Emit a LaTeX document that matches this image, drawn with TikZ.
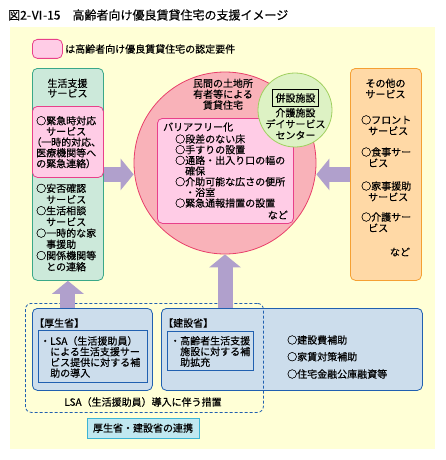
\documentclass[tikz,border=0pt]{standalone}
\usepackage{fontspec}
\setmainfont{Noto Sans CJK JP}[FakeBold=0.4]
\newfontfamily\pfont[RawFeature=+palt,FakeBold=0.4]{Noto Sans CJK JP}
\usetikzlibrary{arrows.meta}
\definecolor{bgy}{HTML}{FFFFD6}
\definecolor{gfill}{HTML}{CCE9DA}
\definecolor{gline}{HTML}{3AA888}
\definecolor{pfill}{HTML}{FFCCE6}
\definecolor{pline}{HTML}{E8408A}
\definecolor{cfill}{HTML}{F9B2B9}
\definecolor{cline}{HTML}{E8406A}
\definecolor{sgfill}{HTML}{DDF2C4}
\definecolor{sgline}{HTML}{A0D060}
\definecolor{ofill}{HTML}{FFD9A6}
\definecolor{oline}{HTML}{F5A033}
\definecolor{arr}{HTML}{B0A0CC}
\definecolor{bfill}{HTML}{CCDDEC}
\definecolor{bline}{HTML}{2060B0}
\definecolor{cyfill}{HTML}{C0E8F0}
\definecolor{cyline}{HTML}{3CB4D4}
\tikzset{
  box/.style={inner sep=0pt, rounded corners=5pt, line width=0.8pt},
  txt/.style={inner sep=0pt, font=\fontsize{10}{10.7}\selectfont, align=left},
  ctxt/.style={inner sep=0pt, font=\fontsize{10}{10.9}\selectfont, align=center},
  barrow/.style={draw=arr, line width=15pt, -{Triangle[width=31pt,length=13pt]}},
}
\begin{document}
\begin{tikzpicture}[x=1pt,y=-1pt]
\useasboundingbox (0,0) rectangle (445,460);
\fill[bgy] (10,27) rectangle (435,449);
\node[inner sep=0pt, anchor=west, font=\fontsize{12}{12}\selectfont] (title) at (8,15) {図2-Ⅵ-15　高齢者向け優良賃貸住宅の支援イメージ};
% legend
\node[box, draw=pline, fill=pfill, minimum width=30pt, minimum height=19pt, anchor=north west] (legbox) at (32,39) {};
\node[txt, anchor=west] (legtxt) at (65,49) {は高齢者向け優良賃貸住宅の認定要件};
% left green box
\node[box, draw=gline, fill=gfill, minimum width=71pt, minimum height=212pt, anchor=north west] (gbox) at (32,68) {};
\node[ctxt, anchor=north, font=\fontsize{10}{10}\selectfont] (gtitle) at (67.5,78.5) {生活支援\\サービス};
\node[box, draw=pline, fill=pfill, minimum width=71pt, minimum height=71pt, anchor=north west] (gpink) at (32,106) {};
\node[txt, anchor=north west] (gpinktxt) at (36,115.9) {○緊急時対応\\　サービス\\{\pfont （}一時的対応{\pfont 、}\\医療機関等へ\\の緊急連絡{\pfont ）}};
\node[txt, anchor=north west, font=\fontsize{10}{11.2}\selectfont] (glist) at (36,183.5) {○安否確認\\　サービス\\○生活相談\\　サービス\\○一時的な家\\　事援助\\○関係機関等\\　との連絡};
% circle
\node[circle, draw=cline, fill=cfill, line width=0.8pt, minimum size=182pt, inner sep=0pt] (circ) at (225,163) {};
\node[ctxt, anchor=north] (ctitle) at (223,78.5) {民間の土地所\\有者等による\\賃貸住宅};
\node[box, draw=pline, fill=pfill, minimum width=136pt, minimum height=105pt, anchor=north west] (cpink) at (157,118) {};
\node[txt, anchor=west] (bf) at (163,127) {バリアフリー化};
\node[txt, anchor=north west, font=\fontsize{10}{10.67}\selectfont] (bflist) at (175,134.2) {○段差のない床\\○手すりの設置\\○通路・出入り口の幅の\\　確保\\○介助可能な広さの便所\\　・浴室\\○緊急通報措置の設置};
\node[txt, anchor=east] (bfnado) at (288,215) {など};
\node[circle, draw=sgline, fill=sgfill, line width=0.8pt, minimum size=74pt, inner sep=0pt] (sg) at (295,110) {};
\node[draw=black, line width=0.7pt, inner sep=0pt, minimum width=45.6pt, minimum height=17.4pt, font=\fontsize{10}{10}\selectfont] (heisetsu) at (295.5,98) {併設施設};
\node[ctxt, anchor=north, font=\fontsize{10}{11.2}\selectfont] (sgtxt) at (295.5,108) {介護施設\\デイサービス\\センター};
% right orange box
\node[box, draw=oline, fill=ofill, minimum width=71pt, minimum height=212pt, anchor=north west] (obox) at (350,68) {};
\node[ctxt, anchor=north] (otitle) at (385.5,78.5) {その他の\\サービス};
\node[txt, anchor=north west, font=\fontsize{10}{11}\selectfont] (o1) at (361,115.2) {○フロント\\\hspace*{7pt}サービス};
\node[txt, anchor=north west, font=\fontsize{10}{11}\selectfont] (o2) at (361,147.2) {○食事サー\\\hspace*{7pt}ビス};
\node[txt, anchor=north west, font=\fontsize{10}{11}\selectfont] (o3) at (361,181.2) {○家事援助\\\hspace*{7pt}サービス};
\node[txt, anchor=north west, font=\fontsize{10}{11}\selectfont] (o4) at (361,212.2) {○介護サー\\\hspace*{7pt}ビス};
\node[txt] (onado) at (400,252) {など};
% bottom section
\node[box, draw=bline, fill=bfill, minimum width=120pt, minimum height=82pt, anchor=north west] (kbox) at (32,308) {};
\node[txt, anchor=west] (klabel) at (34,323) {【厚生省】};
\node[draw=bline, fill=bfill, line width=0.8pt, inner sep=0pt, minimum width=109pt, minimum height=52pt, anchor=north west] (kin) at (38,330) {};
\node[txt, anchor=north west] (kintxt) at (40,336) {・LSA（生活援助員）\\　による生活支援サー\\　ビス提供に対する補\\　助の導入};
\node[box, draw=bline, fill=bfill, minimum width=261pt, minimum height=82pt, anchor=north west] (ebox) at (161,308) {};
\node[txt, anchor=west] (elabel) at (163,323) {【建設省】};
\node[draw=bline, fill=bfill, line width=0.8pt, inner sep=0pt, minimum width=86pt, minimum height=39pt, anchor=north west] (ein) at (167,331) {};
\node[txt, anchor=north west] (eintxt) at (170,336) {・高齢者生活支援\\　施設に対する補\\　助拡充};
\node[txt, anchor=west] (e1) at (287,340) {○建設費補助};
\node[txt, anchor=west] (e2) at (287,356.7) {○家賃対策補助};
\node[txt, anchor=west] (e3) at (287,374) {○住宅金融公庫融資等};
\node[box, draw=bline, dash pattern=on 3pt off 2pt, minimum width=238pt, minimum height=109pt, anchor=north west, rounded corners=6pt] (dbox) at (25,303) {};
\node[txt] (dlabel) at (143,402) {LSA（生活援助員）導入に伴う措置};
\node[draw=cyline, fill=cyfill, line width=0.8pt, inner sep=0pt, minimum width=112pt, minimum height=20pt, font=\fontsize{10}{10}\selectfont] (renkei) at (143,428) {厚生省・建設省の連携};
% arrows
\draw[barrow] (gbox.east) -- (gbox.east -| circ.west);
\draw[barrow] (obox.west) -- (obox.west -| circ.east);
\draw[barrow] (gbox.south |- kbox.north) -- (gbox.south);
\draw[barrow] (circ.south |- ebox.north) -- (circ.south);
\end{tikzpicture}
\end{document}
